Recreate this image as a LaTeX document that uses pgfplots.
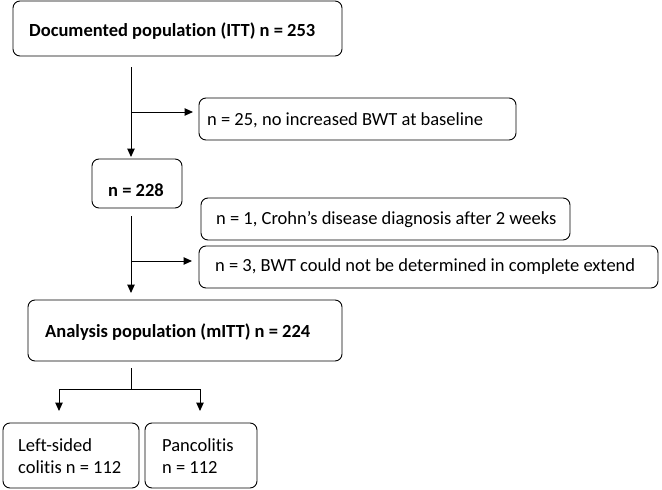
\documentclass[border=0pt]{standalone}
\usepackage{fontspec}
\setmainfont{Carlito}[Ligatures={NoCommon}]
\usepackage{pgfplots}
\pgfplotsset{compat=1.18}
\usetikzlibrary{arrows.meta}
\newcommand\bx[4]{\draw[rounded corners=7pt, line width=0.9pt] (axis cs:#1,#2) rectangle (axis cs:#3,#4);}
\newcommand\tx[3]{\node[anchor=west, inner sep=0pt, font=\fontsize{18.5}{22}\selectfont] at (axis cs:#1,#2) {#3};}
\begin{document}
\begin{tikzpicture}
\begin{axis}[x=1pt, y=1pt, xmin=0, xmax=662, ymin=0, ymax=490, y dir=reverse,
  hide axis, clip=false, scale only axis]
\path (axis cs:0,0) rectangle (axis cs:662,490);
% boxes
\bx{13}{1}{342}{56}
\bx{199}{98}{516}{140}
\bx{92}{159}{182}{208}
\bx{201}{198}{570}{240}
\bx{199}{246}{658}{288}
\bx{28}{300}{342}{361}
\bx{3}{423}{139}{488}
\bx{145}{423}{257}{488}
% arrows
\addplot[line width=1pt, -{Triangle[length=8.5pt,width=7.5pt]}] coordinates {(131,67) (131,157)};
\addplot[line width=1pt, -{Triangle[length=8.5pt,width=7.5pt]}] coordinates {(131,112) (193,112)};
\addplot[line width=1pt, -{Triangle[length=8.5pt,width=7.5pt]}] coordinates {(131,216) (131,293)};
\addplot[line width=1pt, -{Triangle[length=8.5pt,width=7.5pt]}] coordinates {(131,261) (192,261)};
\addplot[line width=1pt] coordinates {(131,368) (131,389)};
\addplot[line width=1pt, -{Triangle[length=8.5pt,width=7.5pt]}] coordinates {(59,389) (59,411)};
\addplot[line width=1pt, -{Triangle[length=8.5pt,width=7.5pt]}] coordinates {(200,389) (200,411)};
\addplot[line width=1pt] coordinates {(59,389) (200,389)};
% texts
\tx{29}{31}{\bfseries Documented population (ITT) n = 253}
\tx{207}{120}{n = 25, no increased BWT at baseline}
\tx{108}{190}{\bfseries n = 228}
\tx{216}{220}{n = 1, Crohn’s disease diagnosis after 2 weeks}
\tx{215}{267}{n = 3, BWT could not be determined in complete extend}
\tx{45}{332}{\bfseries Analysis population (mITT) n = 224}
\tx{18}{445}{Left-sided}
\tx{18}{467}{colitis n = 112}
\tx{162}{445}{Pancolitis}
\tx{162}{467}{n = 112}
\end{axis}
\end{tikzpicture}
\end{document}
